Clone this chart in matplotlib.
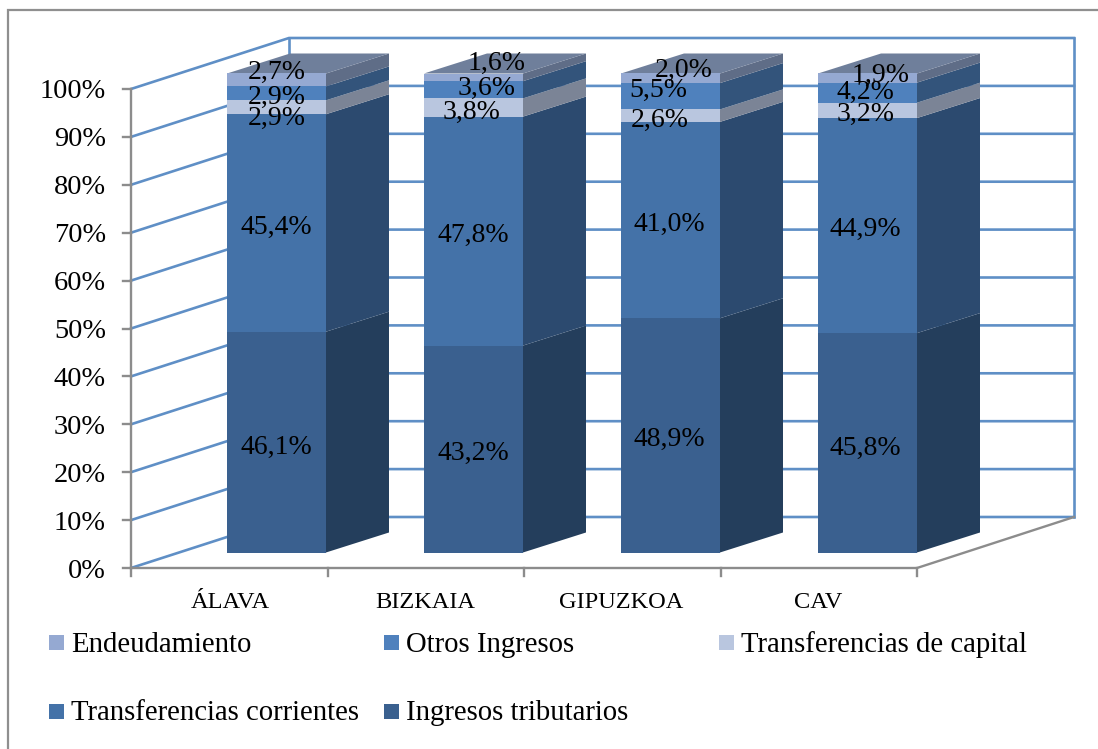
import matplotlib
matplotlib.use("Agg")
import matplotlib.pyplot as plt
from matplotlib.patches import Polygon, Rectangle
from matplotlib.transforms import Affine2D

categories = ["ÁLAVA", "BIZKAIA", "GIPUZKOA", "CAV"]
series_names = ["Ingresos tributarios", "Transferencias corrientes",
                "Transferencias de capital", "Otros Ingresos", "Endeudamiento"]
ingresos_tributarios = [46.1, 43.2, 48.9, 45.8]
transferencias_corrientes = [45.4, 47.8, 41.0, 44.9]
transferencias_capital = [2.9, 3.8, 2.6, 3.2]
otros_ingresos = [2.9, 3.6, 5.5, 4.2]
endeudamiento = [2.7, 1.6, 2.0, 1.9]
y_ticks = [0, 10, 20, 30, 40, 50, 60, 70, 80, 90, 100]

series = [ingresos_tributarios, transferencias_corrientes, transferencias_capital,
          otros_ingresos, endeudamiento]
front = ["#3A608F", "#4472A8", "#B9C6DF", "#4F81BD", "#95A9D2"]
side = ["#243E5C", "#2C4A6F", "#7B8496", "#33547B", "#5F6D87"]
top_colour = "#6F7F9B"
wall = "#5F8FC6"
axis_grey = "#8C8C8C"
FONT = "Liberation Serif"
W, H = 1098, 749
PX_X, PX_Y = 197.0, 4.79      # pixels per category, pixels per percent
X0, Y0 = 276.5, 552.5         # pixel of first bar centre / of 0 % on the bar plane

fig = plt.figure(figsize=(W / 100, H / 100), dpi=100, facecolor="white")
ax = fig.add_axes([0, 0, 1, 1])
ax.set_xlim(-X0 / PX_X, (W - X0) / PX_X)
ax.set_ylim((Y0 - H) / PX_Y, Y0 / PX_Y)
ax.axis("off")

pixels = Affine2D().scale(1, -1).translate(0, H)
bar_w = 99 / PX_X
dx, dy = 63 / PX_X, 20 / PX_Y
# wall geometry, in the axes' own data units
fx, bx, rx = (131 - X0) / PX_X, (289 - X0) / PX_X, (1074 - X0) / PX_X
fy, by = (Y0 - 568) / PX_Y, (Y0 - 517) / PX_Y
frx = (917 - X0) / PX_X
tick_dx = 196.5 / PX_X

# outer frame: open on the right and at the bottom
ax.plot([7.5, 7.5, W], [H, 9.5, 9.5], transform=pixels, color="#8F8F8F", lw=1.6,
        solid_joinstyle="miter", clip_on=False)

# walls and gridlines
for t in y_ticks:
    ax.plot([fx, bx, rx], [fy + t, by + t, by + t], color=wall, lw=1.9, zorder=1, solid_joinstyle="miter")
ax.plot([bx, bx], [by, by + 100], color=wall, lw=1.9, zorder=1)
ax.plot([rx, rx], [by, by + 100], color=wall, lw=1.9, zorder=1)

# axes
ax.plot([fx, fx], [fy, fy + 100], color=axis_grey, lw=1.7, zorder=2)
ax.plot([fx, frx, rx], [fy, fy, by], color=axis_grey, lw=1.7, zorder=2)
for t in y_ticks:
    ax.plot([fx - 8 / PX_X, fx], [fy + t, fy + t], color=axis_grey, lw=1.7, zorder=2)
    ax.annotate(f"{t}%", (fx, fy + t), xytext=(-25, -3), textcoords="offset pixels",
                ha="right", va="center", family=FONT, fontsize=20.4, color="black", zorder=6)
for k in range(5):
    xk = fx + k * tick_dx
    ax.plot([xk, xk], [fy, fy - 8 / PX_Y], color=axis_grey, lw=1.7, zorder=2)

# bars
bottoms = [0.0] * len(categories)
for s, vals in enumerate(series):
    for i, v in enumerate(vals):
        b = bottoms[i]
        x1 = i + bar_w / 2
        ax.add_patch(Polygon([(x1, b), (x1 + dx, b + dy), (x1 + dx, b + v + dy), (x1, b + v)],
                             fc=side[s], ec="none", zorder=3))
    ax.bar(range(len(categories)), vals, width=bar_w, bottom=bottoms, color=front[s], zorder=4, lw=0)
    bottoms = [b + v for b, v in zip(bottoms, vals)]
for i, b in enumerate(bottoms):
    x0, x1 = i - bar_w / 2, i + bar_w / 2
    ax.add_patch(Polygon([(x0, b), (x1, b), (x1 + dx, b + dy), (x0 + dx, b + dy)],
                         fc=top_colour, ec="none", zorder=3))

# data labels: pixel nudges from each segment's centre, one row per series
nudge_x = [[0, 0, -1, -2], [0, 0, -1, -2], [0, -2, -11, -2], [0, 13, -12, -2], [0, 23, 13, 13]]
nudge_y = [[-5, -4, -4, -6], [-4, -4, -4, -4], [-11, -5, -5, -4], [-4, 1, 6, 0], [8, 14, 8, 3]]
bottoms = [0.0] * len(categories)
for s, vals in enumerate(series):
    for i, v in enumerate(vals):
        ax.annotate(f"{v:.1f}%".replace(".", ","), (i, bottoms[i] + v / 2),
                    xytext=(nudge_x[s][i], nudge_y[s][i]), textcoords="offset pixels",
                    ha="center", va="center", family=FONT, fontsize=20, color="black", zorder=6)
    bottoms = [b + v for b, v in zip(bottoms, vals)]

# category labels
cat_x = [230, 425, 621, 818]
for i, c in enumerate(categories):
    ax.text(cat_x[i], 603, c, transform=pixels, ha="center", va="center",
            family=FONT, fontsize=17.6, color="black")

# legend
legend_order = [4, 3, 2, 1, 0]
legend_x = [49, 384, 719, 49, 384]
legend_y = [642.5, 642.5, 642.5, 711.5, 711.5]
for s, lx, ly in zip(legend_order, legend_x, legend_y):
    ax.add_patch(Rectangle((lx, ly - 7.5), 15, 15, transform=pixels, fc=front[s], ec="none"))
    ax.text(lx + 22, ly + 2, series_names[s], transform=pixels, ha="left", va="center",
            family=FONT, fontsize=20.7, color="black")

fig.savefig("out.png", dpi=100, facecolor="white")
